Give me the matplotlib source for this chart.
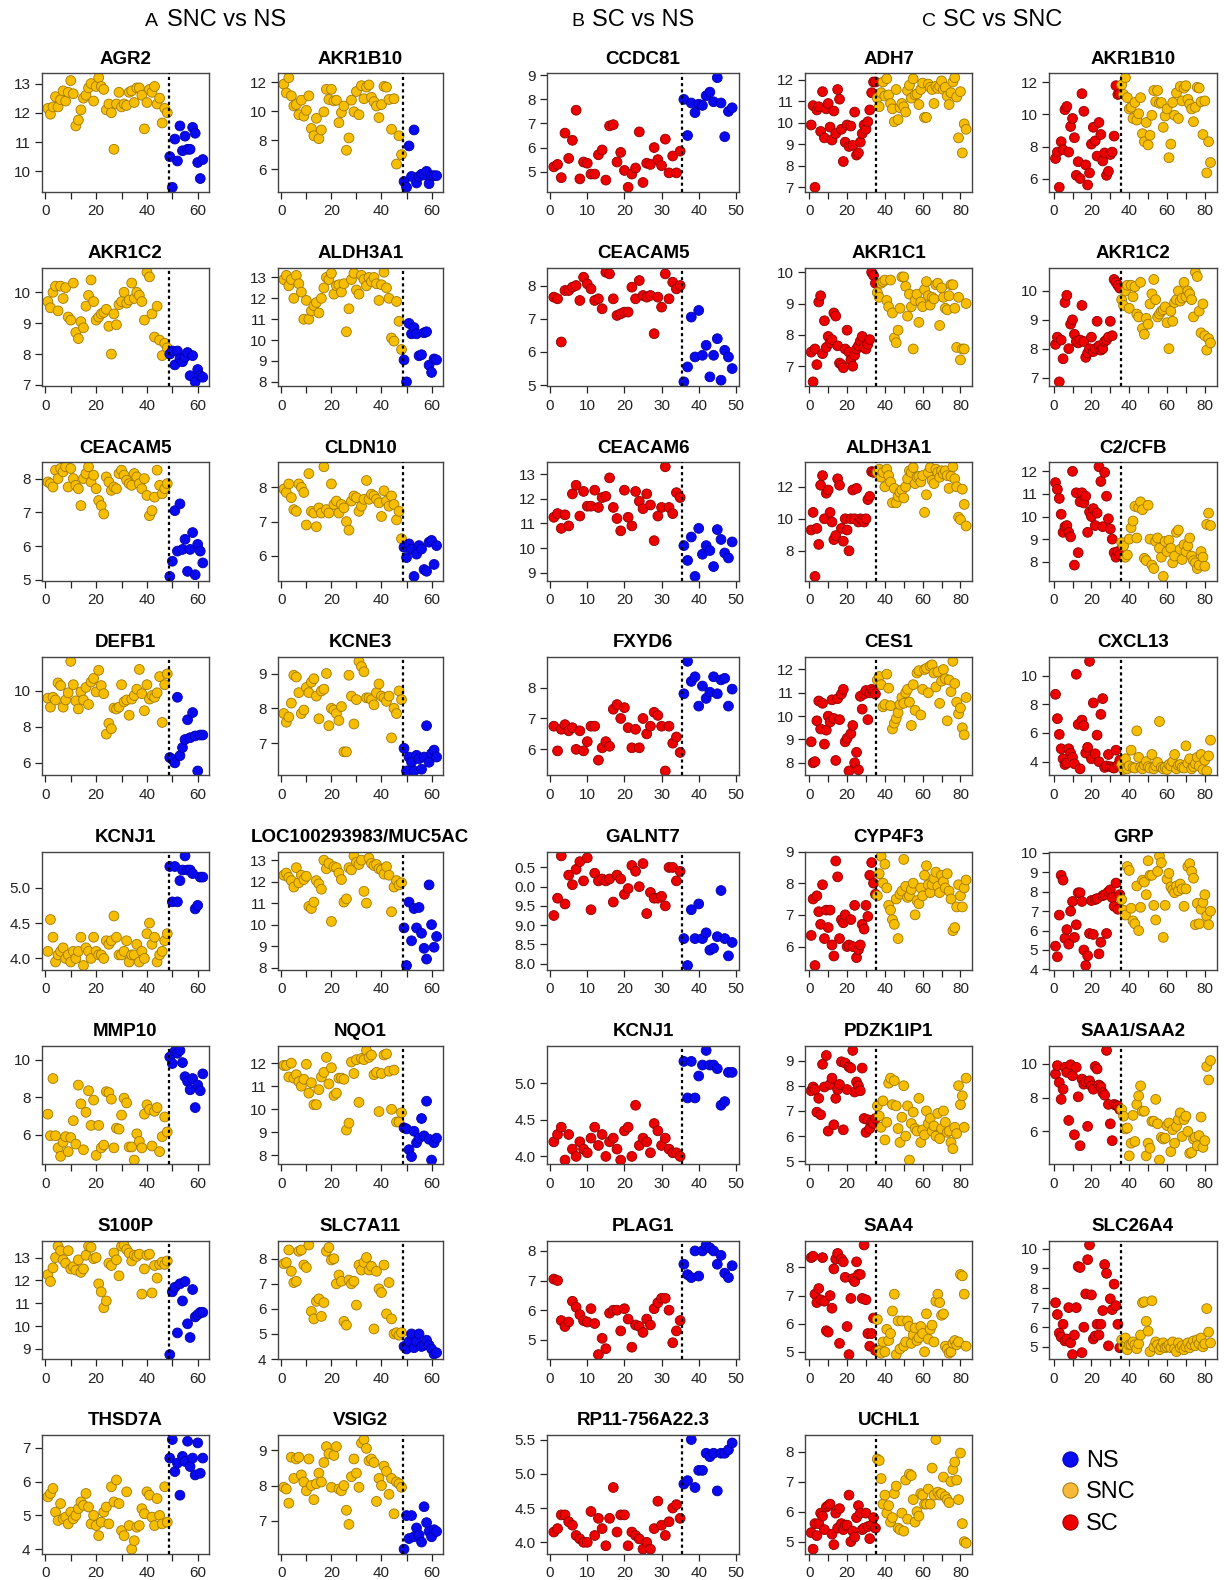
import matplotlib
matplotlib.use("Agg")
import matplotlib.pyplot as plt
import numpy as np
from matplotlib.lines import Line2D

plt.rcParams['font.family'] = ['Liberation Sans', 'DejaVu Sans']

# ---------------- group sizes and colours ----------------
n_SC, n_SNC, n_NS = 35, 48, 14
group_names = ["NS", "SNC", "SC"]
fill = {"NS": "#0A0AF0", "SNC": "#F7BE00", "SC": "#EE0000"}
edge = {"NS": "#0000A8", "SNC": "#A07800", "SC": "#8A0000"}
legend_fill = {"NS": "#0A0AF0", "SNC": "#F8B93A", "SC": "#EE0000"}

# ---------------- data ----------------
agr2_snc = [12.15, 11.95, 12.2, 12.55, 12.2, 12.45, 12.75, 12.4, 12.7, 13.1,
            12.65, 11.55, 11.75, 12.1, 12.5, 12.6, 12.85, 13.0, 12.4, 12.9,
            13.2, 12.9, 12.8, 12.1, 12.3, 12.0, 10.75, 12.3, 12.7, 12.2,
            12.3, 12.25, 12.7, 12.75, 12.35, 12.85, 12.85, 12.6, 11.45, 12.35,
            12.8, 12.7, 12.9, 12.3, 12.5, 11.65, 12.15, 12.0]
agr2_ns = [10.5, 9.45, 11.1, 10.35, 11.55, 10.7, 11.2, 10.75, 10.75, 11.5, 11.3, 10.3, 9.75, 10.4]

akr1b10_snc = [11.85, 11.25, 12.3, 11.05, 10.35, 10.45, 9.75, 10.75, 9.65, 10.05,
               11.05, 8.8, 8.3, 9.5, 8.1, 8.7, 9.95, 11.5, 10.8, 11.5,
               10.7, 10.75, 9.2, 9.9, 10.35, 7.3, 8.15, 10.75, 9.95, 11.35,
               9.75, 11.75, 10.85, 11.65, 11.8, 10.95, 10.65, 10.35, 9.55, 10.45,
               11.7, 11.65, 10.8, 8.75, 10.85, 6.35, 8.3, 7.0]
akr1b10_ns = [5.15, 4.75, 7.6, 5.5, 8.7, 5.05, 5.5, 5.65, 5.6, 5.85, 5.0, 5.55, 5.55, 5.55]
akr1b10_sc = [7.25, 7.65, 5.45, 8.3, 7.8, 10.3, 10.5, 7.65, 9.25, 9.75,
              8.55, 6.2, 7.05, 6.0, 11.3, 10.2, 6.85, 5.6, 6.35, 8.15,
              9.2, 8.35, 7.4, 9.5, 8.75, 7.1, 7.6, 6.2, 6.45, 7.5,
              7.65, 8.65, 11.8, 11.25, 11.3]

adh7_sc = [9.9, 10.8, 7.0, 10.6, 10.75, 9.6, 11.45, 9.3, 10.65, 10.9,
           9.8, 9.2, 10.55, 9.5, 11.55, 11.1, 9.7, 8.2, 9.1, 9.9,
           8.9, 9.85, 8.95, 10.5, 8.5, 8.6, 9.1, 9.5, 9.9, 9.7,
           10.05, 10.6, 11.4, 11.9, 11.9]
adh7_snc = [11.15, 10.75, 11.4, 11.9, 11.25, 12.05, 11.3, 10.9, 10.65, 10.05,
            11.55, 10.15, 10.7, 10.9, 10.75, 10.5, 11.5, 11.75, 11.15, 12.05,
            11.3, 11.35, 10.85, 11.55, 11.85, 10.25, 10.25, 11.8, 11.65, 11.55,
            10.9, 11.7, 11.6, 11.7, 11.95, 11.55, 11.65, 11.25, 10.85, 11.4,
            11.9, 12.1, 11.2, 9.3, 11.45, 8.6, 9.95, 9.7]

ccdc81_sc = [5.2, 5.3, 4.75, 6.6, 5.55, 6.3, 7.55, 4.7, 5.4, 5.35,
             4.9, 4.9, 5.7, 5.9, 4.65, 6.9, 6.95, 5.4, 5.8, 5.05,
             4.35, 4.9, 5.15, 6.65, 4.55, 5.35, 5.3, 6.0, 5.5, 5.25,
             6.35, 4.95, 5.65, 4.95, 5.85]
ccdc81_ns = [8.0, 6.5, 7.85, 7.45, 7.8, 7.75, 8.15, 8.3, 7.9, 8.9, 7.85, 6.45, 7.5, 7.65]

akr1c2_snc = [9.7, 9.5, 10.0, 10.2, 9.4, 10.2, 9.8, 10.15, 9.2, 9.1,
              10.3, 8.7, 8.5, 9.05, 8.85, 9.55, 9.9, 10.4, 9.7, 9.1,
              9.2, 9.3, 9.35, 9.45, 8.9, 8.0, 9.3, 8.95, 9.6, 9.7,
              10.0, 9.65, 9.75, 10.3, 9.8, 10.0, 9.9, 9.7, 9.1, 10.65,
              10.5, 9.3, 8.55, 9.55, 8.45, 7.95, 8.35, 8.2]
akr1c2_ns = [8.0, 8.1, 7.65, 8.1, 7.85, 7.75, 7.9, 8.05, 7.3, 7.95, 7.1, 7.5, 7.3, 7.25]
akr1c2_sc = [8.15, 8.4, 6.85, 8.3, 7.65, 9.6, 9.85, 8.0, 8.85, 9.0,
             8.5, 8.25, 8.2, 8.3, 9.5, 8.25, 7.7, 7.85, 8.0, 8.4,
             7.9, 8.0, 8.95, 8.1, 7.95, 8.0, 8.25, 8.3, 8.4, 8.95,
             8.45, 10.4, 10.3, 10.2, 10.1]

aldh3a1_snc = [12.9, 13.1, 12.6, 12.9, 12.0, 13.1, 12.7, 12.3, 11.0, 11.9,
               11.0, 11.4, 11.65, 11.8, 11.3, 12.0, 12.5, 13.0, 12.9, 13.2,
               12.2, 12.6, 12.65, 12.3, 12.7, 10.4, 11.5, 12.9, 13.2, 12.4,
               12.2, 13.1, 12.9, 12.6, 13.0, 12.8, 13.0, 12.7, 11.9, 12.65,
               13.25, 12.5, 12.0, 10.1, 9.95, 11.85, 10.9, 9.55]
aldh3a1_ns = [9.05, 8.0, 10.8, 10.3, 10.6, 10.3, 9.25, 9.3, 10.35, 10.4, 8.8, 8.45, 9.1, 9.05]
aldh3a1_sc = [9.3, 10.4, 6.4, 9.4, 8.4, 12.1, 12.7, 10.0, 11.6, 11.8,
              10.4, 9.8, 8.7, 8.95, 12.5, 12.1, 9.4, 8.6, 10.0, 9.3,
              8.0, 10.0, 11.8, 10.0, 11.9, 9.8, 10.0, 9.9, 9.8, 10.0,
              11.2, 11.4, 12.95, 12.9, 12.95]

ceacam5_snc = [7.9, 7.85, 7.75, 8.25, 8.0, 8.3, 8.2, 8.35, 7.75, 8.3,
               8.0, 7.8, 7.7, 7.2, 8.0, 8.15, 8.35, 7.9, 8.1, 7.7,
               7.35, 7.2, 6.95, 8.05, 7.9, 7.65, 7.75, 7.7, 8.15, 8.25,
               8.1, 7.95, 7.85, 7.8, 8.15, 8.05, 7.85, 7.7, 8.0, 7.5,
               6.9, 7.05, 7.45, 8.25, 7.8, 7.55, 7.7, 7.85]
ceacam5_ns = [5.1, 5.55, 7.05, 5.85, 7.25, 5.9, 6.2, 5.25, 5.9, 6.4, 5.15, 6.05, 5.85, 5.5]
ceacam5_sc = [7.65, 7.6, 6.3, 7.85, 7.85, 7.95, 8.0, 7.55, 8.25, 8.05,
              7.9, 7.55, 7.6, 7.3, 8.4, 8.35, 7.6, 7.1, 7.15, 7.2,
              7.2, 7.95, 7.6, 8.15, 7.7, 7.65, 7.7, 6.55, 7.65, 7.35,
              8.35, 7.6, 8.1, 7.9, 8.0]

akr1c1_sc = [7.45, 6.5, 7.55, 7.05, 9.05, 9.25, 7.4, 8.45, 7.6, 7.95,
             7.75, 7.85, 8.7, 8.6, 7.65, 7.1, 7.05, 6.95, 7.55, 8.15,
             7.45, 7.2, 7.0, 7.35, 7.55, 7.65, 7.8, 7.95, 7.6, 7.55,
             7.7, 7.85, 10.0, 9.9, 9.65]
akr1c1_snc = [9.35, 9.2, 9.65, 9.7, 9.75, 9.1, 8.9, 9.75, 8.7, 7.9,
              7.75, 8.15, 8.85, 9.85, 9.85, 9.55, 8.6, 9.3, 8.9, 7.55,
              9.1, 9.3, 8.4, 9.05, 8.9, 9.45, 9.7, 9.25, 8.95, 9.2,
              9.15, 9.6, 9.65, 8.3, 9.5, 9.2, 8.85, 8.8, 9.25, 9.6,
              9.6, 8.85, 7.6, 9.2, 7.2, 7.55, 7.55, 9.0]

cldn10_snc = [7.95, 7.85, 8.1, 7.7, 7.35, 7.3, 8.1, 8.0, 7.85, 6.9,
              8.4, 7.3, 7.25, 6.85, 7.4, 7.25, 8.6, 7.35, 7.25, 8.1,
              7.5, 7.6, 7.25, 7.5, 7.4, 7.0, 6.75, 7.6, 7.75, 7.7,
              7.3, 7.45, 7.65, 8.2, 7.65, 7.8, 7.75, 7.65, 7.55, 7.15,
              7.9, 7.6, 7.45, 7.75, 7.5, 7.05, 7.3, 6.5]
cldn10_ns = [6.25, 5.95, 6.35, 6.2, 5.4, 6.05, 6.3, 6.2, 5.6, 5.55, 6.4, 6.45, 5.75, 6.3]

ceacam6_sc = [11.25, 11.4, 10.8, 11.35, 10.9, 12.2, 12.55, 11.3, 12.3, 11.7,
              11.7, 12.35, 11.65, 12.05, 12.1, 12.85, 11.65, 11.2, 10.7, 12.35,
              11.25, 10.9, 12.3, 11.9, 11.6, 12.2, 11.75, 10.3, 11.3, 11.65,
              13.3, 11.65, 11.4, 12.25, 12.05]
ceacam6_ns = [10.1, 9.5, 10.45, 8.85, 10.8, 9.75, 10.1, 9.9, 9.25, 10.75, 10.35, 9.8, 9.6, 10.25]

c2cfb_sc = [11.5, 11.2, 10.8, 10.1, 9.3, 9.55, 9.6, 9.3, 9.1, 12.0,
            7.85, 11.05, 8.4, 10.65, 11.05, 10.6, 10.9, 9.3, 10.2, 10.0,
            10.35, 9.6, 10.15, 12.2, 11.55, 9.55, 11.95, 10.9, 9.9, 9.45,
            9.0, 8.4, 8.2, 8.45, 8.3]
c2cfb_snc = [8.85, 8.7, 8.2, 8.3, 9.0, 9.5, 9.8, 10.45, 9.05, 10.4,
             10.65, 10.3, 8.15, 8.05, 10.5, 9.0, 7.85, 7.7, 8.9, 9.05,
             8.6, 8.2, 7.35, 8.9, 8.45, 8.95, 8.6, 7.95, 8.25, 9.3,
             9.4, 8.55, 8.1, 8.75, 8.45, 8.7, 9.05, 8.25, 8.05, 7.95,
             7.7, 7.85, 8.45, 8.2, 7.8, 9.65, 10.15, 9.6]

defb1_snc = [9.6, 9.1, 9.65, 9.5, 10.45, 10.3, 9.1, 9.5, 9.9, 11.65,
             10.35, 9.45, 9.0, 9.95, 9.5, 10.2, 9.25, 10.5, 10.7, 9.95,
             11.15, 10.3, 9.85, 7.6, 8.2, 7.9, 9.05, 9.0, 9.1, 10.35,
             9.4, 9.5, 8.65, 9.55, 9.75, 10.1, 11.2, 9.85, 8.9, 10.35,
             9.55, 9.75, 9.65, 9.9, 10.8, 8.25, 10.35, 10.95]
defb1_ns = [6.3, 6.2, 6.0, 9.65, 6.4, 6.85, 7.3, 8.4, 7.4, 8.8, 7.5, 5.55, 7.55, 7.55]

kcne3_snc = [7.85, 7.6, 7.75, 8.15, 8.95, 8.9, 8.45, 7.85, 7.95, 8.6,
             8.45, 8.75, 8.85, 8.35, 7.7, 8.5, 8.55, 9.0, 7.5, 8.0,
             7.95, 7.85, 7.65, 8.05, 6.75, 6.75, 8.95, 8.35, 7.55, 8.25,
             9.35, 9.2, 9.05, 8.3, 8.3, 8.25, 8.1, 8.45, 8.7, 8.35,
             8.3, 8.2, 8.35, 7.15, 8.0, 7.85, 8.5, 8.25]
kcne3_ns = [6.85, 6.2, 6.6, 6.45, 6.2, 6.65, 6.55, 6.25, 6.6, 7.5, 6.45, 6.7, 6.8, 6.6]

fxyd6_sc = [6.75, 5.95, 6.65, 6.8, 6.6, 6.7, 6.0, 6.6, 5.95, 6.25,
            6.75, 6.75, 5.65, 6.05, 6.25, 6.1, 7.3, 7.45, 7.0, 7.35,
            6.7, 6.05, 6.65, 6.05, 7.0, 6.5, 6.75, 7.2, 7.1, 6.75,
            5.3, 6.75, 6.2, 6.4, 5.9]
fxyd6_ns = [7.8, 8.85, 8.2, 8.35, 7.4, 8.05, 7.65, 7.85, 8.35, 7.8, 8.25, 8.3, 7.4, 7.95]

ces1_sc = [8.9, 8.0, 8.05, 9.8, 10.65, 9.45, 10.55, 8.8, 9.4, 10.0,
           9.75, 10.7, 9.9, 8.1, 10.75, 9.85, 10.95, 11.15, 8.9, 9.05,
           7.65, 9.25, 9.6, 8.0, 8.45, 7.7, 10.85, 10.3, 10.95, 11.1,
           9.85, 11.0, 11.15, 11.05, 10.95]
ces1_snc = [11.55, 11.7, 11.35, 10.4, 10.5, 11.8, 11.2, 10.45, 9.45, 9.7,
            9.9, 10.15, 10.5, 10.8, 10.55, 11.0, 11.15, 10.6, 9.6, 11.35,
            10.25, 11.85, 11.95, 10.05, 11.15, 12.0, 12.05, 11.0, 12.15, 12.2,
            11.85, 11.25, 11.9, 10.55, 11.5, 12.0, 11.6, 9.8, 11.55, 11.05,
            12.35, 11.4, 10.6, 10.1, 10.35, 9.5, 9.2, 10.8]

cxcl13_sc = [8.7, 7.0, 5.9, 4.9, 4.2, 3.8, 3.9, 4.9, 4.6, 4.3,
             3.85, 10.1, 6.6, 3.5, 6.9, 6.5, 4.6, 5.0, 11.0, 4.2,
             8.1, 4.55, 5.85, 4.0, 7.3, 8.4, 3.6, 3.7, 4.5, 3.65,
             3.6, 3.55, 4.8, 3.75, 4.1]
cxcl13_snc = [3.8, 3.45, 4.2, 3.5, 3.7, 4.8, 3.6, 3.55, 6.15, 4.3,
              3.6, 3.5, 3.75, 4.0, 3.65, 3.55, 4.5, 3.5, 3.7, 3.95,
              6.8, 3.6, 3.5, 3.6, 3.45, 3.8, 3.7, 4.0, 4.5, 3.5,
              3.75, 3.8, 3.6, 3.55, 5.1, 3.9, 4.2, 3.5, 3.65, 3.85,
              4.3, 3.7, 4.5, 3.45, 4.1, 3.35, 4.4, 5.5]

kcnj1_snc = [4.1, 4.55, 4.3, 3.95, 4.05, 4.1, 4.15, 4.0, 4.05, 3.95,
             4.1, 4.0, 4.1, 4.3, 3.9, 4.15, 4.1, 4.0, 4.3, 4.1,
             4.05, 4.05, 4.0, 4.25, 4.2, 4.25, 4.6, 4.3, 4.05, 4.05,
             4.1, 4.25, 3.95, 4.05, 4.05, 4.2, 3.95, 4.1, 4.0, 4.35,
             4.5, 4.2, 4.3, 3.95, 4.05, 4.1, 4.25, 4.35]
kcnj1_ns = [5.3, 4.8, 5.3, 4.8, 5.1, 5.25, 5.45, 5.25, 5.25, 5.2, 4.7, 4.75, 5.15, 5.15]
kcnj1_sc = [4.2, 4.3, 4.4, 3.95, 4.3, 4.1, 4.0, 4.2, 4.1, 4.05,
            4.25, 4.4, 4.15, 4.3, 4.0, 4.2, 4.25, 4.1, 3.95, 4.35,
            4.4, 4.0, 4.7, 4.15, 4.25, 4.2, 4.05, 4.45, 4.35, 4.15,
            4.25, 4.1, 4.05, 4.05, 4.0]

muc5ac_snc = [12.3, 12.4, 12.2, 12.05, 11.75, 12.65, 11.95, 12.3, 12.1, 12.25,
              10.85, 10.75, 11.05, 12.05, 11.9, 11.65, 13.0, 12.6, 12.85, 10.15,
              12.7, 12.65, 12.4, 12.1, 11.05, 11.2, 12.65, 12.55, 13.2, 12.9,
              12.8, 13.0, 11.55, 11.0, 13.1, 12.85, 12.75, 12.8, 12.6, 12.55,
              12.35, 12.7, 12.3, 10.6, 11.75, 12.05, 11.85, 11.95]
muc5ac_ns = [9.85, 8.1, 11.05, 9.25, 10.75, 9.85, 10.8, 9.6, 8.9, 8.4, 11.85, 10.0, 8.95, 9.45]

galnt7_sc = [9.25, 9.7, 10.8, 9.55, 10.3, 10.05, 10.45, 10.65, 10.15, 10.75,
             9.4, 10.35, 10.15, 10.2, 10.15, 10.2, 9.6, 10.3, 10.2, 9.8,
             9.95, 10.55, 10.4, 10.0, 10.6, 9.3, 9.85, 9.7, 9.7, 9.75,
             9.5, 10.5, 10.5, 10.15, 10.4]
galnt7_ns = [8.65, 7.95, 9.4, 8.65, 9.55, 8.65, 8.8, 8.35, 8.4, 8.7, 9.9, 8.65, 8.2, 8.55]

cyp4f3_sc = [6.35, 7.5, 5.4, 7.6, 7.1, 6.7, 7.95, 6.25, 7.15, 6.6,
             7.15, 6.05, 5.7, 8.7, 8.2, 6.25, 6.85, 6.75, 7.0, 6.0,
             6.05, 6.85, 6.0, 7.3, 5.65, 5.9, 6.05, 6.7, 6.55, 7.3,
             6.95, 8.25, 8.65, 8.0, 7.65]
cyp4f3_snc = [7.6, 8.3, 8.85, 8.0, 8.6, 7.85, 7.3, 7.15, 6.85, 6.7,
              7.5, 6.25, 7.65, 7.75, 8.75, 7.9, 7.55, 7.6, 7.8, 8.0,
              7.0, 7.45, 7.35, 7.85, 7.6, 8.25, 8.55, 7.95, 7.7, 7.95,
              8.15, 8.35, 7.9, 7.7, 8.25, 8.05, 7.85, 8.3, 7.75, 7.5,
              6.5, 6.6, 7.25, 7.95, 7.6, 7.25, 7.85, 8.1]

grp_sc = [5.2, 4.65, 6.8, 8.85, 8.6, 5.6, 6.05, 5.3, 7.0, 7.5,
          5.65, 6.3, 7.95, 7.95, 7.5, 5.0, 4.2, 4.7, 5.85, 7.55,
          5.8, 7.6, 7.65, 4.8, 5.4, 7.8, 7.85, 5.85, 8.0, 8.1,
          7.7, 7.25, 8.45, 7.1, 7.85]
grp_snc = [7.6, 7.05, 6.8, 9.3, 9.1, 7.15, 6.5, 6.35, 8.3, 6.0,
           7.2, 8.6, 8.5, 7.85, 9.6, 8.85, 8.85, 7.3, 6.55, 9.05,
           9.85, 9.5, 5.65, 7.3, 8.65, 8.95, 8.25, 8.1, 7.95, 8.3,
           8.05, 8.4, 8.15, 7.25, 8.15, 9.3, 9.45, 9.05, 8.7, 6.3,
           7.4, 6.35, 7.1, 7.45, 7.85, 6.75, 6.3, 7.0]

mmp10_snc = [7.1, 5.95, 9.0, 5.95, 5.3, 4.85, 5.6, 5.9, 5.1, 5.85,
             6.75, 5.5, 8.65, 7.65, 5.2, 7.2, 8.35, 6.5, 7.85, 4.9,
             6.5, 5.3, 5.45, 8.3, 8.25, 7.9, 5.3, 6.35, 6.3, 7.05,
             7.95, 7.7, 5.35, 5.35, 4.65, 6.05, 5.65, 5.3, 7.1, 7.6,
             7.35, 5.4, 7.25, 7.45, 5.1, 5.9, 6.95, 6.15]
mmp10_ns = [10.15, 9.8, 10.45, 10.35, 10.5, 9.85, 9.1, 8.85, 8.4, 9.0, 7.45, 8.65, 8.35, 9.25]

nqo1_snc = [11.9, 11.9, 11.4, 12.0, 11.35, 11.5, 11.2, 11.0, 11.3, 11.95,
            10.7, 11.15, 10.2, 10.2, 10.85, 11.4, 11.6, 12.25, 11.1, 11.8,
            10.6, 10.7, 11.35, 11.35, 11.3, 9.1, 9.4, 12.05, 11.55, 12.15,
            10.3, 12.2, 12.15, 12.55, 12.25, 12.35, 11.5, 11.6, 9.9, 11.55,
            12.35, 12.4, 11.65, 10.0, 11.7, 9.45, 9.45, 9.85]
nqo1_ns = [9.2, 9.15, 8.25, 7.95, 9.05, 8.55, 8.75, 9.6, 8.85, 10.35, 8.7, 7.8, 8.55, 8.75]

pdzk1ip1_sc = [7.8, 7.95, 7.85, 6.95, 7.5, 6.85, 8.85, 7.95, 9.2, 6.2,
               8.05, 8.3, 6.45, 7.5, 7.85, 8.05, 8.95, 6.25, 8.9, 7.85,
               8.75, 8.7, 9.4, 7.75, 8.15, 8.0, 7.8, 8.7, 6.7, 6.15,
               6.65, 6.3, 6.55, 6.5, 6.7]
pdzk1ip1_snc = [7.2, 6.8, 6.35, 7.4, 5.85, 6.55, 8.1, 8.3, 7.25, 8.2,
                7.2, 6.3, 5.75, 6.75, 8.0, 6.0, 7.2, 5.05, 6.5, 6.95,
                6.3, 6.2, 7.5, 5.75, 6.25, 6.05, 7.0, 6.5, 6.7, 6.2,
                6.4, 6.0, 6.9, 5.9, 6.3, 7.0, 6.55, 6.15, 6.2, 5.75,
                5.5, 6.35, 6.1, 8.0, 7.25, 7.6, 6.35, 8.3]

saa12_sc = [9.4, 9.9, 8.9, 7.9, 8.5, 9.8, 9.5, 6.65, 9.95, 9.3,
            5.8, 9.8, 8.05, 5.15, 9.1, 8.8, 8.95, 6.3, 9.0, 8.7,
            8.5, 9.85, 9.7, 8.75, 8.65, 8.3, 8.15, 10.8, 7.6, 6.45,
            5.45, 7.6, 7.55, 7.5, 7.3]
saa12_snc = [7.3, 6.9, 6.15, 6.2, 4.55, 5.3, 6.95, 5.4, 7.6, 8.1,
             8.7, 7.2, 7.2, 4.55, 5.3, 5.0, 6.6, 6.6, 7.9, 6.45,
             4.3, 5.65, 5.55, 5.6, 6.35, 6.5, 4.8, 6.1, 5.3, 6.3,
             6.7, 7.1, 5.7, 6.7, 6.9, 6.0, 4.7, 4.75, 5.55, 5.65,
             5.15, 5.75, 6.85, 5.05, 5.45, 9.85, 9.05, 10.2]

s100p_snc = [12.25, 11.95, 12.55, 13.0, 13.5, 13.3, 12.9, 12.75, 13.3, 12.5,
             12.6, 12.45, 12.9, 12.35, 12.5, 13.1, 13.5, 13.45, 12.95, 13.0,
             11.85, 11.5, 10.8, 11.1, 12.75, 12.65, 13.2, 12.9, 12.2, 13.5,
             13.55, 13.35, 13.2, 12.85, 13.1, 13.05, 13.15, 11.4, 12.5, 13.1,
             13.15, 11.45, 12.65, 12.1, 12.7, 12.8, 12.7, 12.85]
s100p_ns = [8.75, 11.5, 11.7, 9.7, 11.85, 11.1, 11.95, 10.1, 9.5, 11.6, 10.4, 10.5, 10.6, 10.6]

slc7a11_snc = [7.8, 7.85, 8.35, 7.5, 7.05, 7.1, 8.3, 8.35, 7.75, 7.65,
               8.55, 5.9, 5.6, 6.3, 6.4, 5.7, 6.25, 8.3, 8.45, 7.95,
               8.0, 7.0, 7.35, 7.1, 5.5, 5.35, 7.15, 7.0, 7.1, 6.15,
               7.75, 7.55, 7.85, 8.05, 7.55, 7.7, 5.2, 7.5, 6.8, 6.65,
               7.75, 5.8, 7.05, 5.6, 5.0, 5.05, 4.95, 5.05]
slc7a11_ns = [4.5, 4.4, 4.7, 5.0, 4.45, 4.7, 5.0, 4.5, 4.55, 4.75, 4.55, 4.4, 4.2, 4.25]

plag1_sc = [7.05, 7.0, 5.65, 5.45, 5.6, 6.3, 6.1, 5.85, 5.65, 5.6,
            6.05, 5.55, 4.5, 5.05, 4.7, 5.9, 6.0, 6.0, 5.3, 6.05,
            5.7, 4.75, 5.5, 5.45, 5.25, 5.7, 5.5, 6.05, 6.25, 6.4,
            6.4, 6.0, 4.9, 5.3, 5.65]
plag1_ns = [7.55, 7.2, 7.1, 8.0, 7.15, 8.0, 8.2, 8.1, 8.0, 7.55, 7.85, 7.25, 7.1, 7.5]

saa4_sc = [8.35, 8.4, 7.05, 6.75, 7.25, 6.85, 8.35, 6.8, 5.75, 5.7,
           7.0, 6.55, 7.95, 8.3, 8.5, 5.3, 8.3, 8.2, 7.65, 5.9,
           4.9, 6.9, 7.6, 7.5, 8.2, 7.75, 7.75, 6.9, 8.8, 6.85,
           5.65, 5.2, 5.65, 6.2, 5.05]
saa4_snc = [6.15, 5.05, 4.95, 5.35, 5.0, 5.8, 5.4, 5.65, 6.45, 7.05,
            4.9, 6.1, 5.1, 6.1, 5.2, 5.35, 6.1, 5.9, 5.3, 5.6,
            5.85, 5.4, 5.5, 5.9, 5.65, 5.0, 6.35, 5.45, 5.8, 5.95,
            5.35, 6.8, 7.05, 6.75, 6.3, 6.35, 5.2, 5.1, 4.95, 5.0,
            5.3, 5.4, 5.25, 5.35, 7.75, 7.7, 7.05, 5.2]

slc26a4_sc = [7.25, 6.65, 5.7, 5.5, 6.15, 5.3, 5.4, 7.0, 5.2, 4.6,
              5.6, 7.0, 9.1, 9.05, 4.7, 6.0, 7.7, 9.45, 10.2, 7.65,
              5.4, 5.55, 6.15, 5.6, 6.15, 6.85, 9.2, 8.75, 5.05, 7.45,
              6.9, 8.2, 7.1, 6.15, 4.95]
slc26a4_snc = [5.35, 5.0, 5.45, 4.85, 5.1, 5.1, 5.25, 5.1, 4.9, 5.15,
               5.6, 7.25, 7.3, 6.3, 5.8, 4.75, 7.35, 5.0, 5.25, 5.1,
               4.85, 5.0, 5.2, 4.95, 5.0, 5.1, 4.95, 5.25, 4.9, 4.75,
               5.2, 4.95, 5.05, 4.85, 5.0, 5.2, 4.95, 5.1, 5.3, 5.05,
               5.35, 5.15, 5.45, 5.0, 5.15, 6.95, 5.75, 5.2]

thsd7a_snc = [5.55, 5.65, 5.8, 5.1, 4.85, 5.35, 4.9, 4.95, 4.75, 5.1,
              4.9, 5.0, 5.2, 5.4, 5.3, 5.65, 5.25, 4.75, 5.0, 4.7,
              4.4, 4.8, 5.1, 5.25, 4.75, 5.85, 5.4, 6.05, 5.35, 4.55,
              4.4, 5.7, 4.7, 4.0, 4.25, 4.65, 4.7, 5.2, 5.05, 5.7,
              5.6, 4.95, 4.7, 5.5, 5.0, 4.75, 5.85, 4.8]
thsd7a_ns = [6.7, 7.25, 6.3, 6.55, 5.6, 6.75, 6.6, 7.2, 6.45, 6.7, 6.2, 7.15, 6.25, 6.7]

vsig2_snc = [7.95, 7.9, 7.5, 8.8, 8.2, 8.75, 8.8, 8.3, 8.1, 7.85,
             8.75, 8.0, 7.6, 8.05, 8.35, 8.1, 8.65, 9.1, 8.9, 7.95,
             8.85, 9.1, 7.9, 7.85, 8.0, 7.3, 6.9, 8.25, 8.75, 8.35,
             7.95, 9.2, 9.3, 9.05, 8.7, 8.75, 8.65, 7.55, 8.2, 8.0,
             8.55, 8.4, 7.75, 8.2, 7.2, 8.1, 8.05, 7.95]
vsig2_ns = [6.2, 7.15, 6.5, 7.15, 6.55, 6.8, 6.6, 6.4, 7.4, 6.95, 6.7, 6.55, 6.75, 6.7]

rp11_sc = [4.15, 4.2, 4.4, 4.4, 4.3, 4.25, 4.1, 4.05, 4.0, 4.0,
           4.45, 4.1, 4.35, 4.2, 3.95, 4.35, 4.8, 4.15, 4.4, 4.4,
           3.95, 4.15, 4.1, 4.05, 3.9, 4.0, 3.9, 4.2, 4.6, 4.25,
           4.1, 4.3, 4.5, 4.55, 4.35]
rp11_ns = [4.85, 4.9, 5.5, 4.8, 5.05, 5.05, 5.3, 5.25, 5.3, 4.75, 5.3, 5.3, 5.35, 5.45]

uchl1_sc = [5.3, 4.75, 5.6, 5.2, 5.6, 5.95, 5.85, 5.4, 6.15, 6.2,
            6.25, 5.25, 4.9, 5.95, 5.45, 6.1, 5.6, 5.4, 5.55, 5.55,
            6.55, 5.0, 5.35, 5.15, 5.8, 6.2, 5.95, 5.4, 5.45, 5.95,
            5.5, 5.1, 5.55, 5.8, 5.45]
uchl1_snc = [7.75, 7.7, 7.1, 6.25, 6.55, 5.95, 6.2, 5.65, 5.8, 6.6,
             6.85, 5.45, 5.4, 5.95, 5.35, 7.05, 5.75, 7.25, 7.2, 6.4,
             5.65, 6.0, 5.85, 6.6, 6.55, 6.25, 6.25, 6.75, 6.25, 7.45,
             6.55, 8.4, 6.65, 6.55, 6.6, 7.15, 6.5, 6.4, 6.3, 7.0,
             7.4, 7.65, 7.05, 6.4, 7.95, 5.6, 5.0, 4.95]

# y tick values (labels) per panel
yt_agr2 = [10, 11, 12, 13]
yt_akr1b10 = [6, 8, 10, 12]
yt_akr1c2 = [7, 8, 9, 10]
yt_aldh3a1_a = [8, 9, 10, 11, 12, 13]
yt_aldh3a1_c = [8, 10, 12]
yt_ceacam5 = [5, 6, 7, 8]
yt_cldn10 = [6, 7, 8]
yt_defb1 = [6, 8, 10]
yt_kcne3 = [7, 8, 9]
yt_kcnj1 = [4.0, 4.5, 5.0]
yt_muc5ac = [8, 9, 10, 11, 12, 13]
yt_mmp10 = [6, 8, 10]
yt_nqo1 = [8, 9, 10, 11, 12]
yt_s100p = [9, 10, 11, 12, 13]
yt_slc7a11 = [4, 5, 6, 7, 8]
yt_thsd7a = [4, 5, 6, 7]
yt_vsig2 = [7, 8, 9]
yt_ccdc81 = [5, 6, 7, 8, 9]
yt_ceacam6 = [9, 10, 11, 12, 13]
yt_fxyd6 = [6, 7, 8]
yt_galnt7 = [8.0, 8.5, 9.0, 9.5, 10.0, 10.5]
ylab_galnt7 = ["8.0", "8.5", "9.0", "9.5", "0.0", "0.5"]
yt_plag1 = [5, 6, 7, 8]
yt_rp11 = [4.0, 4.5, 5.0, 5.5]
yt_adh7 = [7, 8, 9, 10, 11, 12]
yt_akr1c1 = [7, 8, 9, 10]
yt_c2cfb = [8, 9, 10, 11, 12]
yt_ces1 = [8, 9, 10, 11, 12]
yt_cxcl13 = [4, 6, 8, 10]
yt_cyp4f3 = [6, 7, 8, 9]
yt_grp = [4, 5, 6, 7, 8, 9, 10]
yt_pdzk1ip1 = [5, 6, 7, 8, 9]
yt_saa12 = [6, 8, 10]
yt_saa4 = [5, 6, 7, 8]
yt_slc26a4 = [5, 6, 7, 8, 9, 10]
yt_uchl1 = [5, 6, 7, 8]

headers = [("A", "SNC vs NS"), ("B", "SC vs NS"), ("C", "SC vs SNC")]

# comparison -> (left group, right group)
comparisons = {"A": ("SNC", "NS"), "B": ("SC", "NS"), "C": ("SC", "SNC")}
group_n = {"SC": n_SC, "SNC": n_SNC, "NS": n_NS}

# (column, row, title, comparison, left values, right values, yticks, ylabels)
panels = [
    (0, 0, "AGR2", "A", agr2_snc, agr2_ns, yt_agr2, None),
    (0, 1, "AKR1C2", "A", akr1c2_snc, akr1c2_ns, yt_akr1c2, None),
    (0, 2, "CEACAM5", "A", ceacam5_snc, ceacam5_ns, yt_ceacam5, None),
    (0, 3, "DEFB1", "A", defb1_snc, defb1_ns, yt_defb1, None),
    (0, 4, "KCNJ1", "A", kcnj1_snc, kcnj1_ns, yt_kcnj1, None),
    (0, 5, "MMP10", "A", mmp10_snc, mmp10_ns, yt_mmp10, None),
    (0, 6, "S100P", "A", s100p_snc, s100p_ns, yt_s100p, None),
    (0, 7, "THSD7A", "A", thsd7a_snc, thsd7a_ns, yt_thsd7a, None),
    (1, 0, "AKR1B10", "A", akr1b10_snc, akr1b10_ns, yt_akr1b10, None),
    (1, 1, "ALDH3A1", "A", aldh3a1_snc, aldh3a1_ns, yt_aldh3a1_a, None),
    (1, 2, "CLDN10", "A", cldn10_snc, cldn10_ns, yt_cldn10, None),
    (1, 3, "KCNE3", "A", kcne3_snc, kcne3_ns, yt_kcne3, None),
    (1, 4, "LOC100293983/MUC5AC", "A", muc5ac_snc, muc5ac_ns, yt_muc5ac, None),
    (1, 5, "NQO1", "A", nqo1_snc, nqo1_ns, yt_nqo1, None),
    (1, 6, "SLC7A11", "A", slc7a11_snc, slc7a11_ns, yt_slc7a11, None),
    (1, 7, "VSIG2", "A", vsig2_snc, vsig2_ns, yt_vsig2, None),
    (2, 0, "CCDC81", "B", ccdc81_sc, ccdc81_ns, yt_ccdc81, None),
    (2, 1, "CEACAM5", "B", ceacam5_sc, ceacam5_ns, yt_ceacam5, None),
    (2, 2, "CEACAM6", "B", ceacam6_sc, ceacam6_ns, yt_ceacam6, None),
    (2, 3, "FXYD6", "B", fxyd6_sc, fxyd6_ns, yt_fxyd6, None),
    (2, 4, "GALNT7", "B", galnt7_sc, galnt7_ns, yt_galnt7, ylab_galnt7),
    (2, 5, "KCNJ1", "B", kcnj1_sc, kcnj1_ns, yt_kcnj1, None),
    (2, 6, "PLAG1", "B", plag1_sc, plag1_ns, yt_plag1, None),
    (2, 7, "RP11-756A22.3", "B", rp11_sc, rp11_ns, yt_rp11, None),
    (3, 0, "ADH7", "C", adh7_sc, adh7_snc, yt_adh7, None),
    (3, 1, "AKR1C1", "C", akr1c1_sc, akr1c1_snc, yt_akr1c1, None),
    (3, 2, "ALDH3A1", "C", aldh3a1_sc, aldh3a1_snc, yt_aldh3a1_c, None),
    (3, 3, "CES1", "C", ces1_sc, ces1_snc, yt_ces1, None),
    (3, 4, "CYP4F3", "C", cyp4f3_sc, cyp4f3_snc, yt_cyp4f3, None),
    (3, 5, "PDZK1IP1", "C", pdzk1ip1_sc, pdzk1ip1_snc, yt_pdzk1ip1, None),
    (3, 6, "SAA4", "C", saa4_sc, saa4_snc, yt_saa4, None),
    (3, 7, "UCHL1", "C", uchl1_sc, uchl1_snc, yt_uchl1, None),
    (4, 0, "AKR1B10", "C", akr1b10_sc, akr1b10_snc, yt_akr1b10, None),
    (4, 1, "AKR1C2", "C", akr1c2_sc, akr1c2_snc, yt_akr1c2, None),
    (4, 2, "C2/CFB", "C", c2cfb_sc, c2cfb_snc, yt_c2cfb, None),
    (4, 3, "CXCL13", "C", cxcl13_sc, cxcl13_snc, yt_cxcl13, None),
    (4, 4, "GRP", "C", grp_sc, grp_snc, yt_grp, None),
    (4, 5, "SAA1/SAA2", "C", saa12_sc, saa12_snc, yt_saa12, None),
    (4, 6, "SLC26A4", "C", slc26a4_sc, slc26a4_snc, yt_slc26a4, None),
]

x_ticks = {"A": list(range(0, 61, 10)), "B": list(range(0, 51, 10)), "C": list(range(0, 81, 10))}
x_label_step = {"A": 20, "B": 10, "C": 20}

# ---------------- layout (pixels) ----------------
W, H = 1224, 1580
col_left = [41.7, 277.7, 546.7, 805.0, 1049.3]
col_width = [167.3, 165.0, 192.6, 167.3, 167.4]
row_top0, row_step, box_h = 73.3, 194.55, 118.4

fig = plt.figure(figsize=(W / 100, H / 100), dpi=100)

for col, row, title, comp, left_vals, right_vals, yticks, ylabels in panels:
    gl, gr = comparisons[comp]
    assert len(left_vals) == group_n[gl], title
    assert len(right_vals) == group_n[gr], title
    top = row_top0 + row * row_step
    ax = fig.add_axes([col_left[col] / W, 1 - (top + box_h) / H, col_width[col] / W, box_h / H])
    vals = np.array(list(left_vals) + list(right_vals))
    n = len(vals)
    xs = np.arange(1, n + 1)
    groups = [gl] * len(left_vals) + [gr] * len(right_vals)
    ax.scatter(xs, vals, s=50, c=[fill[g] for g in groups], edgecolors=[edge[g] for g in groups],
               linewidths=0.6, zorder=2)
    ax.axvline(len(left_vals) + 0.5, color="black", lw=1.6, ls=(0, (1.4, 1.4)), zorder=3)
    xr = n - 1
    ax.set_xlim(1 - 0.04 * xr, n + 0.04 * xr)
    yr = vals.max() - vals.min()
    ax.set_ylim(vals.min() - 0.04 * yr, vals.max() + 0.04 * yr)
    xt = x_ticks[comp]
    ax.set_xticks(xt)
    ax.set_xticklabels([str(t) if t % x_label_step[comp] == 0 else "" for t in xt])
    ax.set_yticks(yticks)
    if ylabels is None:
        if all(float(t).is_integer() for t in yticks):
            ylabels = ["%d" % t for t in yticks]
        else:
            ylabels = ["%.1f" % t for t in yticks]
    ax.set_yticklabels(ylabels)
    ax.tick_params(axis="both", direction="out", length=5, width=0.9, labelsize=11, colors="#222222")
    ax.tick_params(axis="x", pad=4)
    ax.tick_params(axis="y", pad=3)
    for sp in ax.spines.values():
        sp.set_color("#444444")
        sp.set_linewidth(1.0)
    ax.set_title(title, fontsize=13.5, fontweight="bold", pad=7)

# headers
header_x = [(145, 167), (571, 592), (922, 943)]
for (letter, text), (lx, tx) in zip(headers, header_x):
    fig.text(lx / W, 1 - 26 / H, letter, fontsize=14, va="baseline", ha="left")
    fig.text(tx / W, 1 - 26 / H, text, fontsize=17, va="baseline", ha="left")

# legend
handles = [Line2D([], [], ls="none", marker="o", markersize=11, markerfacecolor=legend_fill[g],
                  markeredgecolor=edge[g], markeredgewidth=0.7) for g in group_names]
fig.legend(handles, group_names, loc="upper left", bbox_to_anchor=(1059 / W, 1 - 1450 / H),
           frameon=False, fontsize=17, handlelength=0.9, handletextpad=0.25,
           labelspacing=0.4, borderpad=0, borderaxespad=0)

fig.savefig("out.png", dpi=100)
